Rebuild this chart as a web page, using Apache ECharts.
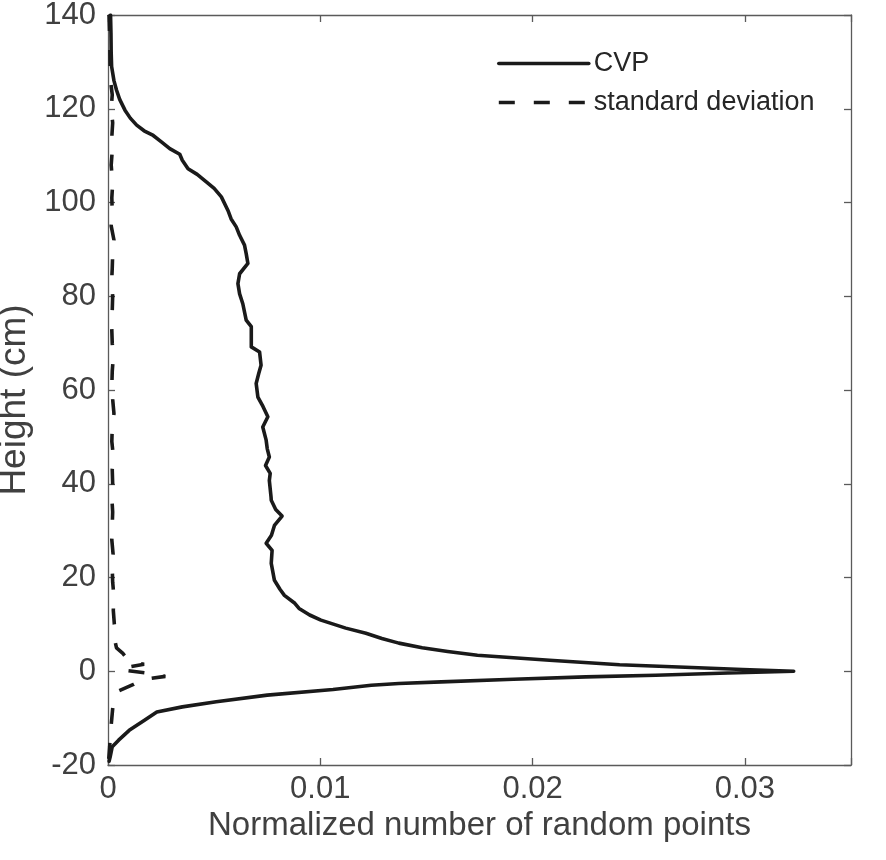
<!DOCTYPE html>
<html>
<head>
<meta charset="utf-8">
<script src="https://cdn.jsdelivr.net/npm/echarts@6/dist/echarts.min.js"></script>
<style>
html,body{margin:0;padding:0;background:#fff;}
#chart{width:886px;height:860px;}
</style>
</head>
<body>
<div id="chart"></div>
<script>
// CVP curve: heights (cm) and normalized counts
const cvpHeight = [140,136,132,129,126,124,122,119.7,118,116.5,115.3,114.3,113,111.5,110.3,109,107.2,106,104.4,103,101.2,98.3,96.5,94.8,93,90.9,89.1,87.0,84.8,82.7,80.5,78.4,74.9,73.5,69.2,68.1,65.3,63.5,61.4,58.5,56.5,54.3,52.1,49.3,47.5,45.7,43.9,42.2,40.7,37.2,36.5,34.5,33.1,31.1,29,27.3,25.8,23,19.4,17.5,16.2,14.5,13.4,12,10.9,9.2,8.1,7,6,5.0,4.2,3.4,2.35,1.4,0.8,0.36,0,-0.36,-0.85,-1.2,-1.7,-2.27,-2.6,-3.0,-3.9,-5.1,-6.5,-7.6,-8.7,-10.5,-12.6,-14.7,-16.1,-18.3,-19.2];
const cvpValue = [0.00012,0.00014,0.00015,0.00017,0.00028,0.0004,0.00055,0.0008,0.00105,0.00135,0.0017,0.00213,0.0025,0.00291,0.00338,0.0035,0.00377,0.0042,0.00463,0.005,0.00534,0.00565,0.0058,0.00604,0.0062,0.00643,0.00651,0.00659,0.0062,0.00612,0.0062,0.00635,0.00651,0.00675,0.00675,0.00714,0.00721,0.0071,0.00698,0.00706,0.0073,0.00753,0.00729,0.00745,0.0075,0.0076,0.00742,0.00764,0.0076,0.00768,0.00769,0.0079,0.0082,0.00784,0.0077,0.00745,0.00773,0.00769,0.00784,0.0081,0.00831,0.0088,0.009,0.0095,0.01003,0.0112,0.01215,0.0129,0.0137,0.0148,0.016,0.0174,0.0208,0.0241,0.0275,0.0299,0.0323,0.0292,0.0258,0.0225,0.0191,0.0157,0.0137,0.0124,0.0106,0.0075,0.0051,0.0035,0.0023,0.0017,0.001,0.0005,0.0002,0.0001,0.00005];

// Standard deviation curve
const stdHeight = [140,135,130,126,123,120,117,114,111,108,104,101,98,95,92,89,86,83,80,77,74,70,67,64,61,58,55,52,49,46,43,40,37,34,31,28,25,22,19,16,13,10,8,6,5,3.8,2.7,1.9,1.5,1.0,0.3,-0.6,-1.1,-1.8,-2.8,-4.2,-6,-8,-10,-13,-16,-19];
const stdValue = [0.00005,0.00008,0.0001,0.00012,0.0002,0.00015,0.00022,0.00018,0.0002,0.00015,0.00022,0.00018,0.0002,0.00015,0.00028,0.00022,0.0002,0.00017,0.00022,0.0002,0.00017,0.0002,0.00025,0.0002,0.00018,0.00022,0.00028,0.0002,0.00018,0.00025,0.0002,0.00022,0.00018,0.00022,0.0002,0.00018,0.00024,0.0002,0.00022,0.00028,0.00025,0.0003,0.0004,0.00035,0.0004,0.0007,0.0009,0.0012,0.0017,0.0011,0.0006,0.0022,0.0027,0.0016,0.0012,0.0005,0.0003,0.00022,0.00018,0.00012,0.00008,0.00003];

const xTicks = [0, 0.01, 0.02, 0.03];
const yTicks = [-20, 0, 20, 40, 60, 80, 100, 120, 140];

const cvpData = cvpHeight.map((h, i) => [cvpValue[i], h]);
const stdData = stdHeight.map((h, i) => [stdValue[i], h]);

const FONT = 'Liberation Sans';
const AXIS_COLOR = '#5a5a5a';
const TEXT_COLOR = '#404040';
const LINE_COLOR = '#1a1a1a';

function xLabel(v) {
  for (const t of xTicks) if (Math.abs(v - t) < 1e-9) return t === 0 ? '0' : String(t);
  return '';
}
function yLabel(v) {
  for (const t of yTicks) if (Math.abs(v - t) < 1e-9) return String(t);
  return '';
}

function axisBase() {
  return {
    axisLine: { show: true, onZero: false, lineStyle: { color: AXIS_COLOR, width: 1.3 } },
    axisTick: { show: true, inside: true, length: 7, lineStyle: { color: AXIS_COLOR, width: 1.3 } },
    splitLine: { show: false }
  };
}

const chart = echarts.init(document.getElementById('chart'), null, { renderer: 'canvas' });
chart.setOption({
  animation: false,
  backgroundColor: '#ffffff',
  grid: { left: 108, right: 35, top: 15, bottom: 95, containLabel: false, outerBoundsMode: 'none' },
  legend: {
    data: ['CVP', 'standard deviation'],
    orient: 'vertical',
    left: 497,
    top: 50,
    padding: 0,
    itemWidth: 90,
    itemHeight: 14,
    itemGap: 12,
    itemStyle: { opacity: 0 },
    lineStyle: { width: 3.6 },
    textStyle: { fontFamily: FONT, fontSize: 27, color: '#262626' }
  },
  xAxis: [
    Object.assign(axisBase(), {
      type: 'value', position: 'bottom', min: 0, max: 0.035, interval: 0.01,
      axisLabel: { formatter: xLabel, fontFamily: FONT, fontSize: 31, color: TEXT_COLOR, margin: 9 },
      name: 'Normalized number of random points',
      nameLocation: 'middle', nameGap: 38,
      nameTextStyle: { fontFamily: FONT, fontSize: 33, color: TEXT_COLOR }
    }),
    Object.assign(axisBase(), {
      type: 'value', position: 'top', min: 0, max: 0.035, interval: 0.01,
      axisLabel: { show: false }
    })
  ],
  yAxis: [
    Object.assign(axisBase(), {
      type: 'value', position: 'left', min: -20, max: 140, interval: 20,
      axisLabel: { formatter: yLabel, fontFamily: FONT, fontSize: 31, color: TEXT_COLOR, margin: 12 },
      name: 'Height (cm)',
      nameLocation: 'middle', nameGap: 74,
      nameTextStyle: { fontFamily: FONT, fontSize: 37, color: TEXT_COLOR, padding: [0, 20, 0, 0] }
    }),
    Object.assign(axisBase(), {
      type: 'value', position: 'right', min: -20, max: 140, interval: 20,
      axisLabel: { show: false }
    })
  ],
  series: [
    {
      name: 'CVP', type: 'line', data: cvpData, symbol: 'none', showSymbol: false, smooth: false,
      xAxisIndex: 0, yAxisIndex: 0,
      lineStyle: { color: LINE_COLOR, width: 3.6, cap: 'round', join: 'round' },
      itemStyle: { color: LINE_COLOR }
    },
    {
      name: 'standard deviation', type: 'line', data: stdData, symbol: 'none', showSymbol: false, smooth: false,
      xAxisIndex: 0, yAxisIndex: 0,
      lineStyle: { color: LINE_COLOR, width: 3.6, type: [16, 19] },
      itemStyle: { color: LINE_COLOR }
    }
  ]
});
</script>
</body>
</html>
